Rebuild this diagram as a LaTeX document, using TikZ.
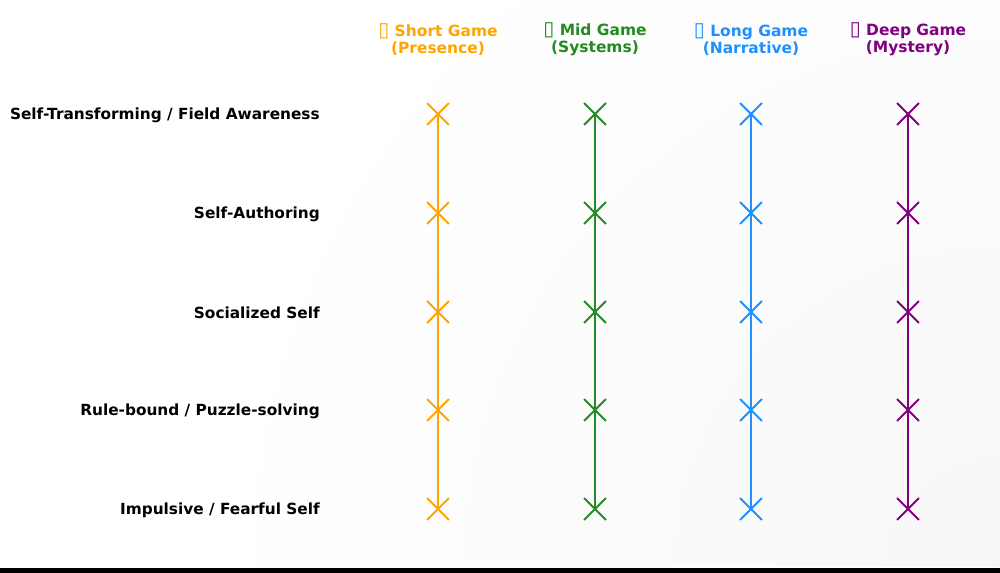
\documentclass[tikz,border=0pt]{standalone}
\usepackage{fontspec}
\setmainfont{DejaVu Sans}
\usetikzlibrary{shapes.misc}
\definecolor{cShort}{HTML}{FFA500}
\definecolor{cMid}{HTML}{228B22}
\definecolor{cLong}{HTML}{1E90FF}
\definecolor{cDeep}{HTML}{800080}
\newcommand{\tofubox}{{\fontsize{15}{12.8}\selectfont\mdseries ▯}}
\tikzset{
  rowlabel/.style={anchor=east, font=\bfseries\fontsize{11.5}{13}\selectfont, text=black, inner sep=0pt},
  colhead/.style={align=center, font=\bfseries\fontsize{11.6}{12.8}\selectfont, inner sep=0pt},
  xmark/.style={cross out, draw=#1, line width=1.4pt, minimum size=15pt, inner sep=0pt},
  vline/.style={draw=#1, line width=1.8pt},
}
\begin{document}
\begin{tikzpicture}[x=0.75pt, y=-0.75pt]
\useasboundingbox (0,0) rectangle (1000,573);
\fill[white] (0,0) rectangle (1000,573);
\begin{scope}
\clip (0,0) rectangle (1000,566);
\shade[inner color=black!3, outer color=white] (1000,573) circle (800);
\end{scope}
\fill[black] (0,568) rectangle (1000,573);

% row labels
\node[rowlabel] (l1) at (320,115.5) {Self-Transforming / Field Awareness};
\node[rowlabel] (l2) at (320,214.5) {Self-Authoring};
\node[rowlabel] (l3) at (320,313) {Socialized Self};
\node[rowlabel] (l4) at (320,411.5) {Rule-bound / Puzzle-solving};
\node[rowlabel] (l5) at (320,510.5) {Impulsive / Fearful Self};

% headers
\node[colhead, text=cShort] (h1) at (438,39.5) {\tofubox{} Short Game\\(Presence)};
\node[colhead, text=cMid] (h2) at (595,39.5) {\tofubox{} Mid Game\\(Systems)};
\node[colhead, text=cLong] (h3) at (751,39.5) {\tofubox{} Long Game\\(Narrative)};
\node[colhead, text=cDeep] (h4) at (908,39.5) {\tofubox{} Deep Game\\(Mystery)};

% columns
\foreach \c/\x/\col in {1/438/cShort, 2/595/cMid, 3/751/cLong, 4/908/cDeep}{
  \foreach \r/\y in {1/114, 2/213, 3/312, 4/410, 5/509}{
    \coordinate (p\c\r) at (\x,\y);
  }
  \draw[vline=\col] (p\c1) -- (p\c2) -- (p\c3) -- (p\c4) -- (p\c5);
  \foreach \r in {1,...,5}{
    \node[xmark=\col] (m\c\r) at (p\c\r) {};
  }
}
\end{tikzpicture}
\end{document}
